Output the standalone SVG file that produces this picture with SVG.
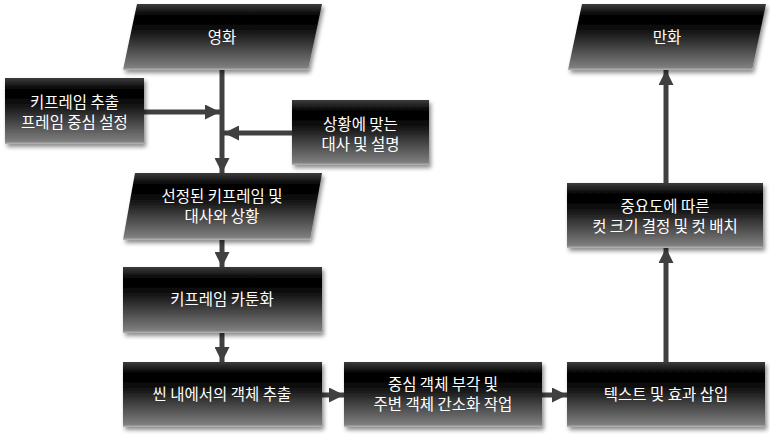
<svg xmlns="http://www.w3.org/2000/svg" width="770" height="435" viewBox="0 0 770 435">
<defs>
<linearGradient id="g" x1="0" y1="0" x2="0" y2="1">
<stop offset="0" stop-color="#3c3c3c"/>
<stop offset="0.18" stop-color="#000"/>
<stop offset="0.35" stop-color="#080808"/>
<stop offset="0.96" stop-color="#7e7e7e"/>
<stop offset="1" stop-color="#b8b8b8"/>
</linearGradient>
<filter id="sh" x="-10%" y="-10%" width="125%" height="130%">
<feDropShadow dx="2" dy="3" stdDeviation="2" flood-color="#000" flood-opacity="0.45"/>
</filter>
<marker id="ah" viewBox="0 0 10 10" refX="10" refY="5" markerWidth="3" markerHeight="3" markerUnits="strokeWidth" orient="auto">
<path d="M0,0 L10,5 L0,10 Z" fill="#404040"/>
</marker>
</defs>
<style>
.n{fill:url(#g);filter:url(#sh)}
text{font-family:"Noto Sans CJK KR","Noto Sans",sans-serif;font-size:15.5px;fill:#fff;text-anchor:middle}
.c{stroke:#404040;stroke-width:5;fill:none}
</style>
<g id="connectors">
<line class="c" x1="222" y1="70" x2="222" y2="173" marker-end="url(#ah)"/>
<line class="c" x1="144" y1="112" x2="220" y2="112" marker-end="url(#ah)"/>
<line class="c" x1="292" y1="133" x2="224" y2="133" marker-end="url(#ah)"/>
<line class="c" x1="222" y1="240" x2="222" y2="267" marker-end="url(#ah)"/>
<line class="c" x1="222" y1="333" x2="222" y2="362" marker-end="url(#ah)"/>
<line class="c" x1="322" y1="395" x2="344" y2="395" marker-end="url(#ah)"/>
<line class="c" x1="542" y1="395" x2="567" y2="395" marker-end="url(#ah)"/>
<line class="c" x1="666" y1="362" x2="666" y2="248" marker-end="url(#ah)"/>
<line class="c" x1="666" y1="183" x2="666" y2="70" marker-end="url(#ah)"/>
</g>
<g id="movie">
<polygon class="n" points="137,4 322,4 308,70 123,70"/>
<text x="222" y="43">영화</text>
</g>
<g id="keyframe-extract">
<rect class="n" x="5" y="78" width="139" height="66"/>
<text x="74.5" y="108">키프레임 추출</text>
<text x="74.5" y="128">프레임 중심 설정</text>
</g>
<g id="dialogue">
<rect class="n" x="292" y="100" width="137" height="65"/>
<text x="360.5" y="130">상황에 맞는</text>
<text x="360.5" y="150">대사 및 설명</text>
</g>
<g id="selected">
<polygon class="n" points="135,173 322,173 310,240 123,240"/>
<text x="222" y="202">선정된 키프레임 및</text>
<text x="222" y="222">대사와 상황</text>
</g>
<g id="cartoon">
<rect class="n" x="123" y="267" width="199" height="66"/>
<text x="222" y="305">키프레임 카툰화</text>
</g>
<g id="extract-objects">
<rect class="n" x="123" y="362" width="199" height="65"/>
<text x="222" y="400">씬 내에서의 객체 추출</text>
</g>
<g id="emphasis">
<rect class="n" x="344" y="362" width="198" height="65"/>
<text x="443" y="390">중심 객체 부각 및</text>
<text x="443" y="410">주변 객체 간소화 작업</text>
</g>
<g id="text-effects">
<rect class="n" x="567" y="362" width="198" height="65"/>
<text x="666" y="400">텍스트 및 효과 삽입</text>
</g>
<g id="layout">
<rect class="n" x="567" y="183" width="196" height="65"/>
<text x="665" y="212">중요도에 따른</text>
<text x="665" y="232">컷 크기 결정 및 컷 배치</text>
</g>
<g id="comic">
<polygon class="n" points="582,4 766,4 752,70 568,70"/>
<text x="667" y="43">만화</text>
</g>
</svg>
